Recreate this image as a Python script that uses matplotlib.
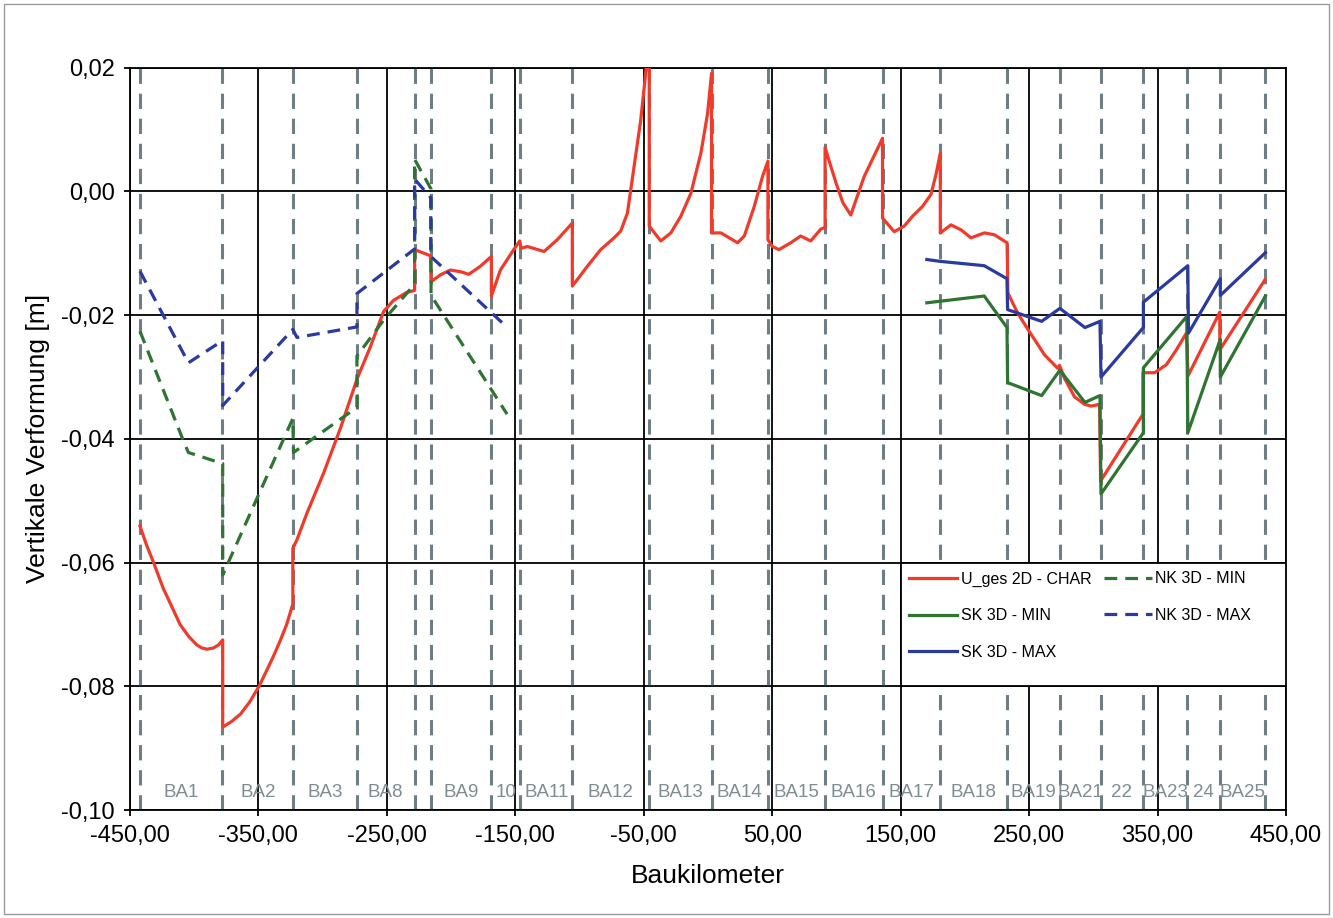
import matplotlib
matplotlib.use("Agg")
import matplotlib.pyplot as plt
from matplotlib.patches import Rectangle

plt.rcParams['font.family'] = ['Liberation Sans', 'DejaVu Sans']

# U_ges 2D - CHAR
red_x = [-442.2, -437, -431.8, -424, -417, -411, -404, -398, -394, -390, -385, -381, -377.8, -377.8,
         -371, -364, -357, -349.5, -343, -338, -333, -328,
         -323.2, -323.2, -320, -312, -299, -286, -273, -263, -252.5, -244.8, -234.4, -228.4, -228.4,
         -216, -215.6, -208.4, -200.6, -192, -186.3, -177.2, -168.6, -168.6, -161.6, -151.2, -146.5,
         -145.5, -140.6, -127.6, -117.3, -105.6, -105.6, -93.9, -83.5, -73.1, -67.9, -62.7, -57.5,
         -52.3, -47.5, -45.7, -45.7, -36.7, -28.9, -21.1, -13.3, -5.5, -0.3, 2.8, 2.8, 10.1, 16.6,
         23.1, 28.3, 36.1, 42.6, 46.7, 46.7, 50.1, 55.3, 64.4, 72.2, 80, 87.8, 91.2, 91.2, 95, 100,
         105, 111.2, 121.6, 135.9, 135.9, 145, 152.8, 159.3, 167.1, 173.6, 177.5, 180.9, 180.9, 189.2,
         197, 204.8, 215.2, 223, 232.9, 233.5, 241.2, 251, 262, 272.4, 273.7, 277.6, 285.4, 293.2,
         298.4, 304.9, 305.7, 338.7, 338.7, 347.8, 356.9, 364.7, 372.5, 373.8, 398.5, 398.5, 433.6]
red_y = [-0.0541, -0.0572, -0.0599, -0.0642, -0.0673, -0.0700, -0.0720, -0.0733, -0.0738, -0.0740,
         -0.0738, -0.0733, -0.0725, -0.0866, -0.0857, -0.0845, -0.0826,
         -0.0800, -0.0772, -0.0750, -0.0726, -0.0700, -0.0667, -0.0577, -0.0563, -0.0519, -0.0454, -0.0382, -0.0302,
         -0.0252, -0.0194, -0.0176, -0.0163, -0.0160, -0.0094, -0.0104, -0.0146, -0.0135, -0.0127,
         -0.0130, -0.0134, -0.0121, -0.0105, -0.0169, -0.0127, -0.0094, -0.0080, -0.0092, -0.0089,
         -0.0097, -0.0078, -0.0051, -0.0153, -0.0121, -0.0094, -0.0075, -0.0064, -0.0035, 0.0041,
         0.0116, 0.0210, 0.0215, -0.0056, -0.0080, -0.0067, -0.0040, -0.0003, 0.0062, 0.0126, 0.0191,
         -0.0067, -0.0067, -0.0075, -0.0083, -0.0072, -0.0024, 0.0025, 0.0049, -0.0078, -0.0089,
         -0.0094, -0.0083, -0.0072, -0.0080, -0.0061, -0.0058, 0.0071, 0.0045, 0.0012, -0.0018,
         -0.0038, 0.0024, 0.0086, -0.0043, -0.0065, -0.0056, -0.0040, -0.0024, -0.0005, 0.0027,
         0.0062, -0.0067, -0.0054, -0.0062, -0.0075, -0.0067, -0.0070, -0.0083, -0.0164, -0.0197,
         -0.0229, -0.0264, -0.0286, -0.0281, -0.0302, -0.0332, -0.0344, -0.0347, -0.0344, -0.0468,
         -0.0360, -0.0293, -0.0293, -0.0280, -0.0256, -0.0229, -0.0298, -0.0195, -0.0256, -0.0143]

# NK 3D - MIN
nk_min_x = [-442.2, -408.4, -404.5, -377.8, -377.8, -351.3, -323.2, -322.7, -273.3, -273.3, -252.5,
            -228.4, -228.4, -215.6, -215.6, -156.4]
nk_min_y = [-0.0226, -0.0403, -0.0422, -0.0440, -0.0620, -0.0497, -0.0367, -0.0422, -0.0349, -0.0266,
            -0.0208, -0.0150, 0.0052, 0.0004, -0.0168, -0.0360]

# NK 3D - MAX
nk_max_x = [-442.2, -404.5, -377.8, -377.8, -323.2, -320, -273.3, -273.3, -228.4, -228.4, -215.8,
            -215.8, -160.3]
nk_max_y = [-0.0129, -0.0277, -0.0241, -0.0346, -0.0223, -0.0236, -0.0219, -0.0165, -0.0093, 0.0020,
            -0.0010, -0.0105, -0.0212]

# SK 3D - MIN
sk_min_x = [170.4, 215.1, 232.8, 233.3, 259.8, 274, 293.5, 305.2, 306, 339, 339, 372.8, 373.6, 398.9,
            398.9, 434]
sk_min_y = [-0.0180, -0.0169, -0.0220, -0.0309, -0.0330, -0.0289, -0.0341, -0.0330, -0.0489, -0.0390,
            -0.0285, -0.0202, -0.0390, -0.0239, -0.0300, -0.0169]

# SK 3D - MAX
sk_max_x = [170.4, 180.8, 215.1, 232.8, 233.3, 259.8, 274, 293.5, 305.2, 306, 339, 339, 373.6, 374.1,
            398.9, 398.9, 434]
sk_max_y = [-0.0110, -0.0113, -0.0120, -0.0141, -0.0191, -0.0210, -0.0189, -0.0220, -0.0210, -0.0300,
            -0.0220, -0.0179, -0.0120, -0.0229, -0.0141, -0.0168, -0.0099]

# section boundaries and names
ba_bounds = [-442, -378, -323, -273.5, -228.4, -215.6, -168.6, -146, -105.6, -45.7, 2.8, 46.7, 91.2,
             135.9, 180.9, 232.9, 273.7, 305.7, 338.7, 373, 398.5, 434]
ba_names = ['BA1', 'BA2', 'BA3', 'BA8', '', 'BA9', '10', 'BA11', 'BA12', 'BA13', 'BA14', 'BA15',
            'BA16', 'BA17', 'BA18', 'BA19', 'BA21', '22', 'BA23', '24', 'BA25']

x_ticks = [-450, -350, -250, -150, -50, 50, 150, 250, 350, 450]
x_labels = ['-450,00', '-350,00', '-250,00', '-150,00', '-50,00', '50,00', '150,00', '250,00',
            '350,00', '450,00']
y_ticks = [-0.10, -0.08, -0.06, -0.04, -0.02, 0.00, 0.02]
y_labels = ['-0,10', '-0,08', '-0,06', '-0,04', '-0,02', '0,00', '0,02']

fig = plt.figure(figsize=(13.33, 9.18), dpi=100)
ax = fig.add_axes([0.0975, 0.1176, 0.8672, 0.8086])

red = '#ee3b2b'
green = '#2e7532'
blue = '#2a3a9e'
grey = '#6f7e84'

for b in ba_bounds:
    ax.axvline(b, color=grey, lw=2.2, ls=(0, (5, 3.2)), zorder=1.5)
for i, name in enumerate(ba_names):
    xm = (ba_bounds[i] + ba_bounds[i + 1]) / 2
    ax.text(xm, -0.0972, name, color='#7f8c91', fontsize=13.5, ha='center', va='center', zorder=2)

ax.plot(red_x, red_y, color=red, lw=2.3, label='U_ges 2D - CHAR', zorder=3)
ax.plot(sk_min_x, sk_min_y, color=green, lw=2.3, label='SK 3D - MIN', zorder=3)
ax.plot(sk_max_x, sk_max_y, color=blue, lw=2.3, label='SK 3D - MAX', zorder=3)
ax.plot(nk_min_x, nk_min_y, color=green, lw=2.3, ls=(0, (4, 2.5)), label='NK 3D - MIN', zorder=3)
ax.plot(nk_max_x, nk_max_y, color=blue, lw=2.3, ls=(0, (4, 2.5)), label='NK 3D - MAX', zorder=3)

ax.set_xlim(-450, 450)
ax.set_ylim(-0.10, 0.02)
ax.set_xticks(x_ticks)
ax.set_xticklabels(x_labels)
ax.set_yticks(y_ticks)
ax.set_yticklabels(y_labels)
ax.tick_params(direction='out', length=4, width=1.3, labelsize=17, pad=7, color='black')
ax.grid(True, color='black', lw=1.3, zorder=1)
ax.set_axisbelow(True)
for s in ax.spines.values():
    s.set_linewidth(1.3)
    s.set_color('black')

ax.set_xlabel('Baukilometer', fontsize=19, labelpad=12)
ax.set_ylabel('Vertikale Verformung [m]', fontsize=19, labelpad=8)

# legend box sits in the lower right grid cell
ax.add_patch(Rectangle((150, -0.08), 300, 0.02, facecolor='white', edgecolor='black', lw=1.3, zorder=5))
ax.legend(loc='upper left', bbox_to_anchor=(150, -0.06), bbox_transform=ax.transData, ncol=2,
          frameon=False, fontsize=11.5, handlelength=3.0, handletextpad=0.2, columnspacing=0.8,
          labelspacing=1.35, borderpad=0.55, borderaxespad=0).set_zorder(6)

fig.patches.append(Rectangle((0.003, 0.004), 0.994, 0.992, transform=fig.transFigure,
                             fill=False, edgecolor='#9a9a9a', lw=1))

fig.savefig('out.png', dpi=100)
